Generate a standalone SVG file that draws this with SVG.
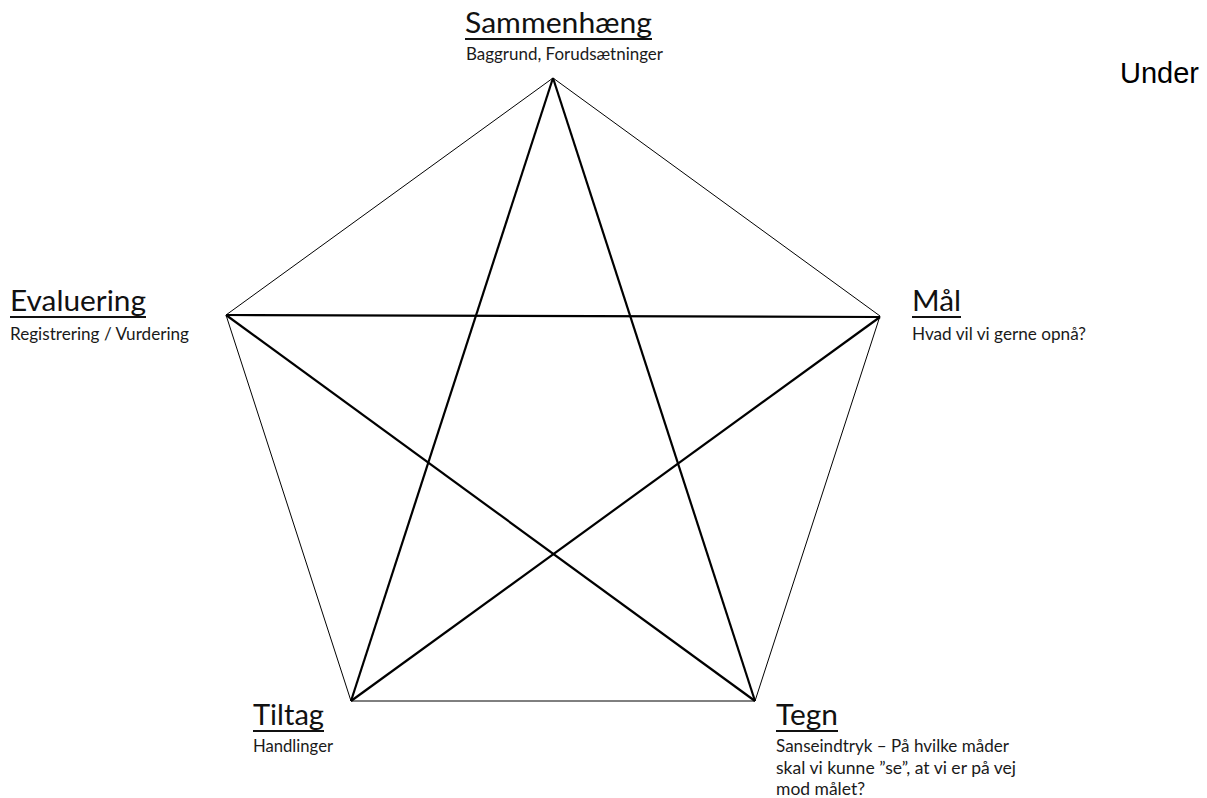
<svg xmlns="http://www.w3.org/2000/svg" width="1207" height="798" viewBox="0 0 1207 798">
<style>
.title{font-family:Lato,"Noto Sans","Liberation Sans",sans-serif;font-size:29px;fill:#111}
.sub{font-family:Lato,"Noto Sans","Liberation Sans",sans-serif;font-size:17px;fill:#1a1a1a}
.ul{stroke:#111;stroke-width:2}
.edge{stroke:#000;stroke-width:1;fill:none}
.star{stroke:#000;stroke-width:2.2;fill:none;stroke-linejoin:miter}
.extra{font-family:"Liberation Sans",Arial,sans-serif;font-size:29px;fill:#000}
</style>
<rect width="1207" height="798" fill="#fff"/>
<g id="connectors">
  <line class="edge" x1="553" y1="78" x2="880" y2="316"/>
  <line class="edge" x1="880" y1="316" x2="755" y2="701"/>
  <line class="edge" x1="755" y1="701" x2="351" y2="701"/>
  <line class="edge" x1="351" y1="701" x2="226" y2="315"/>
  <line class="edge" x1="226" y1="315" x2="553" y2="78"/>
  <line class="star" x1="553" y1="78" x2="351" y2="701"/>
  <line class="star" x1="553" y1="78" x2="755" y2="701"/>
  <line class="star" x1="226" y1="315" x2="880" y2="317"/>
  <line class="star" x1="226" y1="315" x2="755" y2="701"/>
  <line class="star" x1="880" y1="317" x2="351" y2="701"/>
</g>
<g id="sammenhaeng">
  <text class="title" x="465" y="33" textLength="187" lengthAdjust="spacingAndGlyphs">Sammenhæng</text>
  <line class="ul" x1="465" y1="39" x2="652" y2="39"/>
  <text class="sub" x="466" y="60" textLength="197" lengthAdjust="spacingAndGlyphs">Baggrund, Forudsætninger</text>
</g>
<g id="evaluering">
  <text class="title" x="10" y="311" textLength="136" lengthAdjust="spacingAndGlyphs">Evaluering</text>
  <line class="ul" x1="10" y1="317" x2="146" y2="317"/>
  <text class="sub" x="10" y="340" textLength="179" lengthAdjust="spacingAndGlyphs">Registrering / Vurdering</text>
</g>
<g id="maal">
  <text class="title" x="912" y="311" textLength="49" lengthAdjust="spacingAndGlyphs">Mål</text>
  <line class="ul" x1="912" y1="317" x2="961" y2="317"/>
  <text class="sub" x="912" y="340" textLength="174" lengthAdjust="spacingAndGlyphs">Hvad vil vi gerne opnå?</text>
</g>
<g id="tiltag">
  <text class="title" x="253" y="725" textLength="71" lengthAdjust="spacingAndGlyphs">Tiltag</text>
  <line class="ul" x1="253" y1="731" x2="324" y2="731"/>
  <text class="sub" x="253" y="752" textLength="80" lengthAdjust="spacingAndGlyphs">Handlinger</text>
</g>
<g id="tegn">
  <text class="title" x="776" y="725" textLength="62" lengthAdjust="spacingAndGlyphs">Tegn</text>
  <line class="ul" x1="776" y1="731" x2="838" y2="731"/>
  <text class="sub" x="776" y="752" textLength="233" lengthAdjust="spacingAndGlyphs">Sanseindtryk – På hvilke måder</text>
  <text class="sub" x="776" y="774" textLength="240" lengthAdjust="spacingAndGlyphs">skal vi kunne ”se”, at vi er på vej</text>
  <text class="sub" x="776" y="795" textLength="89" lengthAdjust="spacingAndGlyphs">mod målet?</text>
</g>
<g id="under">
  <text class="extra" x="1120" y="83">Under</text>
</g>
</svg>
